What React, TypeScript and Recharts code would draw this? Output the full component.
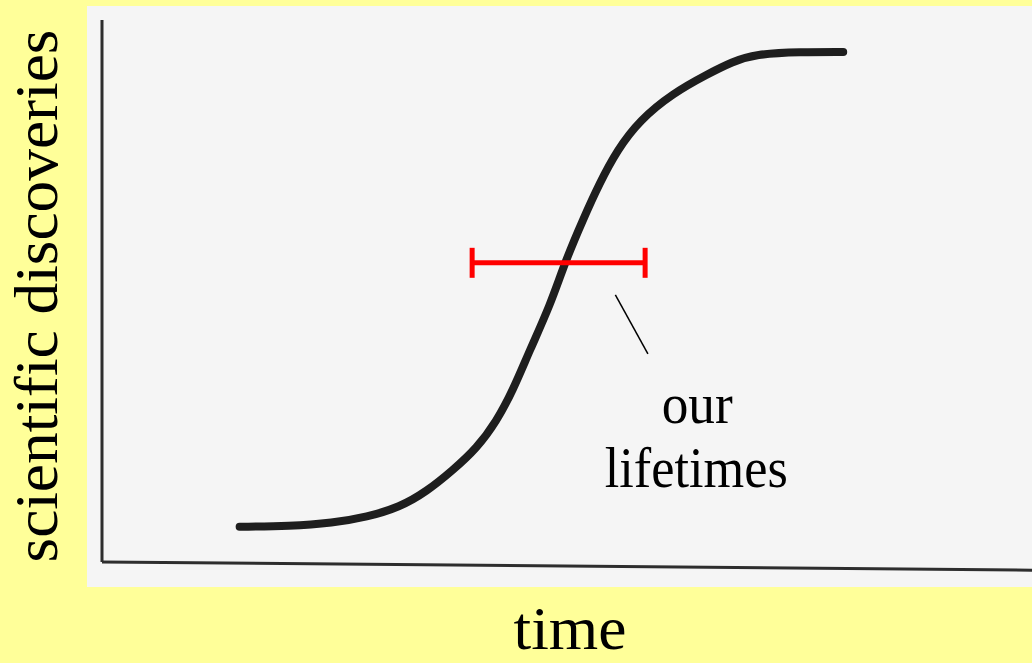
import { ComposedChart, Line, Scatter, ErrorBar, XAxis, YAxis, ReferenceLine, ReferenceDot, Label } from 'recharts';

// S-curve of discoveries over time (arbitrary 0-100 units)
const timeSteps = [14.8, 20.2, 24.8, 28.5, 32.0, 34.9, 37.7, 40.3, 42.4, 44.2, 46.0, 48.2, 49.8, 51.7, 53.5, 55.4, 57.8, 61.4, 65.1, 67.8, 70.2, 75.1, 79.7];
const discoveries = [6.5, 6.6, 7.2, 8.3, 10.1, 13.0, 16.9, 21.0, 25.9, 31.7, 39.1, 47.4, 55.4, 63.1, 69.9, 76.0, 81.5, 86.5, 90.0, 92.3, 93.7, 94.1, 94.1];

// "our lifetimes" span
const lifetimeMid = [49.1];
const lifetimeLevel = [55.2];
const lifetimeHalfSpan = [9.3];

// pointer from the span to the caption
const pointerTimes = [55.2, 58.7];
const pointerLevels = [49.3, 38.4];

const captionLines = ['our', 'lifetimes'];
const captionTimes = [64.0, 63.9];
const captionLevels = [25.6, 13.8];
const captionWidths = [71, 183];

const YELLOW = '#FFFF99';
const PAPER = '#F5F5F5';
const INK = '#1e1e1e';
const AXIS = '#2e2e2e';
const RED = '#FF0000';
const SERIF = '"Liberation Serif", "Times New Roman", serif';

const curveData = timeSteps.map((t, i) => ({ t, v: discoveries[i] }));
const lifetimeData = lifetimeMid.map((t, i) => ({ t, v: lifetimeLevel[i], err: lifetimeHalfSpan[i] }));

const noShape = () => <g />;

export default function App() {
  return (
    <div style={{ position: 'fixed', left: 0, top: 0, width: 1032, height: 663, background: YELLOW, overflow: 'hidden' }}>
      <div style={{ position: 'absolute', left: 87, top: 6, width: 945, height: 581, background: PAPER }} />
      <div style={{ position: 'absolute', left: 0, top: 0 }}>
        <ComposedChart width={1032} height={663} margin={{ top: 20, right: 0, bottom: 0, left: 0 }}>
          <XAxis
            type="number"
            dataKey="t"
            domain={[0, 100]}
            height={101}
            tick={false}
            tickLine={false}
            axisLine={false}
          >
            <Label
              content={({ viewBox }: any) => (
                <text
                  x={viewBox.x + viewBox.width / 2 + 3}
                  y={viewBox.y + 87}
                  textAnchor="middle"
                  fontFamily={SERIF}
                  fontSize={62}
                  textLength={113}
                  lengthAdjust="spacingAndGlyphs"
                  fill="#000"
                >
                  time
                </text>
              )}
            />
          </XAxis>
          <YAxis
            type="number"
            dataKey="v"
            domain={[0, 100]}
            width={102}
            tick={false}
            tickLine={false}
            axisLine={{ stroke: AXIS, strokeWidth: 3 }}
          >
            <Label
              content={({ viewBox }: any) => (
                <text
                  transform={`translate(${viewBox.x + 57}, ${viewBox.y + viewBox.height / 2 + 5}) rotate(-90)`}
                  textAnchor="middle"
                  fontFamily={SERIF}
                  fontSize={62}
                  textLength={533}
                  lengthAdjust="spacingAndGlyphs"
                  fill="#000"
                >
                  scientific discoveries
                </text>
              )}
            />
          </YAxis>
          <ReferenceLine
            segment={[{ x: 0, y: 0 }, { x: 100, y: -1.5 }]}
            ifOverflow="visible"
            stroke={AXIS}
            strokeWidth={3}
          />
          <Line
            data={curveData}
            dataKey="v"
            type="basis"
            stroke={INK}
            strokeWidth={8}
            strokeLinecap="round"
            dot={false}
            activeDot={false}
            isAnimationActive={false}
          />
          <Scatter data={lifetimeData} dataKey="v" shape={noShape} isAnimationActive={false}>
            <ErrorBar dataKey="err" direction="x" width={15} stroke={RED} strokeWidth={5} isAnimationActive={false} />
          </Scatter>
          <ReferenceLine
            segment={[{ x: pointerTimes[0], y: pointerLevels[0] }, { x: pointerTimes[1], y: pointerLevels[1] }]}
            stroke="#000"
            strokeWidth={1.5}
          />
          {captionLines.map((line, i) => (
            <ReferenceDot
              key={line}
              x={captionTimes[i]}
              y={captionLevels[i]}
              r={1}
              fill="none"
              stroke="none"
              label={{
                content: ({ viewBox }: any) => (
                  <text
                    x={viewBox.x + viewBox.width / 2}
                    y={viewBox.y + viewBox.height / 2}
                    textAnchor="middle"
                    fontFamily={SERIF}
                    fontSize={56}
                    textLength={captionWidths[i]}
                    lengthAdjust="spacingAndGlyphs"
                    fill="#000"
                  >
                    {line}
                  </text>
                ),
              }}
            />
          ))}
        </ComposedChart>
      </div>
    </div>
  );
}
